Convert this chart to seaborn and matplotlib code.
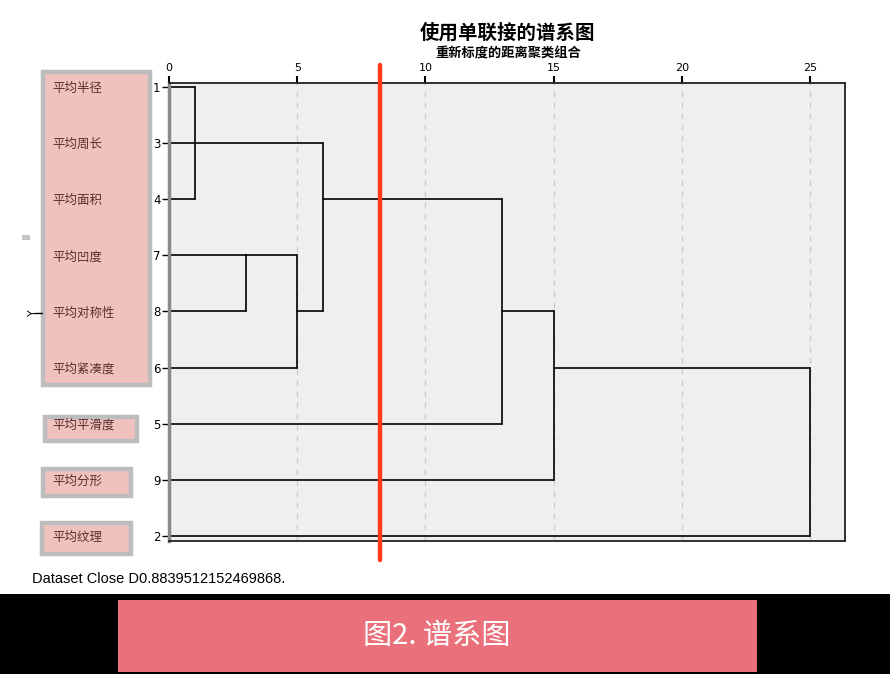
import numpy as np
import pandas as pd
import matplotlib
matplotlib.use("Agg")
import matplotlib.pyplot as plt
from matplotlib.patches import Rectangle
import seaborn as sns

# 叶节点顺序（自上而下）及变量名
leaf_ids = ["1", "3", "4", "7", "8", "6", "5", "9", "2"]
leaf_names = ["平均半径", "平均周长", "平均面积", "平均凹度", "平均对称性",
              "平均紧凑度", "平均平滑度", "平均分形", "平均纹理"]

# 聚类合并过程（重新标度的距离）
merge_names = ["A", "B", "C", "D", "E", "F", "G"]
merge_children = [["1", "3", "4"], ["7", "8"], ["B", "6"], ["A", "C"],
                  ["D", "5"], ["E", "9"], ["F", "2"]]
merge_heights = [1, 3, 5, 6, 13, 15, 25]
merge_anchor = ["3", "7", "8", "4", "8", "6", None]  # 新簇横线所在的叶行

x_ticks = [0, 5, 10, 15, 20, 25]
cut_distance = 8.23

# ---- 计算谱系图线段 ----
pos = {lid: i for i, lid in enumerate(leaf_ids)}
node_x = {lid: 0.0 for lid in leaf_ids}
node_y = {lid: float(i) for i, lid in enumerate(leaf_ids)}
rows = []
seg = 0
for name, kids, h, anc in zip(merge_names, merge_children, merge_heights, merge_anchor):
    ys = []
    for k in kids:
        rows += [(seg, node_x[k], node_y[k]), (seg, h, node_y[k])]
        seg += 1
        ys.append(node_y[k])
    rows += [(seg, h, min(ys)), (seg, h, max(ys))]
    seg += 1
    node_x[name] = h
    node_y[name] = float(pos[anc]) if anc else float(np.mean(ys))
segs = pd.DataFrame(rows, columns=["seg", "dist", "leaf"])

# ---- 画布 ----
sns.set_style("white")
plt.rcParams["font.family"] = ["Noto Sans CJK SC", "DejaVu Sans"]
plt.rcParams["text.color"] = "black"
plt.rcParams["xtick.color"] = "black"
plt.rcParams["ytick.color"] = "black"
W, H = 890, 674
fig = plt.figure(figsize=(W / 100, H / 100), dpi=100)

def fx(px):
    return px / W

def fy(py):
    return 1 - py / H

ax = fig.add_axes([fx(169), fy(541), fx(845) - fx(169), fy(83) - fy(541)])
ax.set_facecolor("#efefef")

sns.lineplot(data=segs, x="dist", y="leaf", units="seg", estimator=None,
             sort=False, color="black", linewidth=1.2, ax=ax, legend=False)

ax.set_xlim(0, 26.36)
ax.set_ylim(8.09, -0.07)
ax.set_xlabel("")
ax.set_ylabel("")

ax.xaxis.tick_top()
ax.set_xticks(x_ticks)
ax.set_xticklabels([str(t) for t in x_ticks], fontsize=8, family="DejaVu Sans")
ax.tick_params(axis="x", direction="out", length=5, width=1.5, pad=2)
ax.xaxis.grid(True, linestyle=(0, (4, 4)), color="#cdcdcd", linewidth=1)
ax.set_axisbelow(True)

ax.set_yticks(range(len(leaf_ids)))
ax.set_yticklabels(leaf_ids, fontsize=8.5, family="DejaVu Sans")
ax.tick_params(axis="y", direction="out", length=5, width=1, pad=1, left=True)

for s in ["top", "right", "bottom"]:
    ax.spines[s].set_color("#222222")
    ax.spines[s].set_linewidth(1.3)
ax.spines["left"].set_color("#8a8a8a")
ax.spines["left"].set_linewidth(2.5)

# 截断线
ax.axvline(cut_distance, ymin=-0.041, ymax=1.039, color="#ff3a1c",
           linewidth=3.2, clip_on=False, zorder=5)

# ---- 标题 ----
fig.text(fx(508), fy(33), "使用单联接的谱系图", ha="center", va="center",
         fontsize=14, fontweight="bold")
fig.text(fx(508), fy(53), "重新标度的距离聚类组合", ha="center", va="center",
         fontsize=9.5, fontweight="bold")

# ---- 左侧粉色标签框 ----
box_specs = [(43, 72, 150, 385), (45, 417, 137, 441), (43, 469, 131, 496), (42, 523, 131, 554)]
for x0, y0, x1, y1 in box_specs:
    fig.add_artist(Rectangle((fx(x0), fy(y1)), fx(x1) - fx(x0), fy(y0) - fy(y1),
                             transform=fig.transFigure, facecolor="#efc2bd",
                             edgecolor="#bdbdbd", linewidth=3.2, zorder=-1))
label_tr = matplotlib.transforms.blended_transform_factory(fig.transFigure, ax.transData)
for i, nm in enumerate(leaf_names):
    ax.text(fx(52), i + 0.03, nm, transform=label_tr, ha="left", va="center",
            fontsize=9, color="#5a3030", clip_on=False)

fig.add_artist(Rectangle((fx(22), fy(240)), fx(8), 5 / H, transform=fig.transFigure,
                         facecolor="#c4c4c4", edgecolor="none", zorder=-1))
fig.text(fx(33), fy(313), "Y", rotation=90, ha="center", va="center",
         fontsize=8, family="DejaVu Sans")
fig.add_artist(plt.Line2D([fx(35), fx(42)], [fy(313), fy(313)],
                          transform=fig.transFigure, color="black", linewidth=1))

# ---- 底部 ----
fig.text(fx(32), fy(579), "Dataset Close D0.8839512152469868.", ha="left", va="center",
         fontsize=10.5, family="Liberation Sans")
fig.add_artist(Rectangle((0, 0), 1, 80 / H, transform=fig.transFigure,
                         facecolor="black", edgecolor="none"))
fig.add_artist(Rectangle((fx(118), fy(672)), fx(757) - fx(118), 72 / H,
                         transform=fig.transFigure, facecolor="#ea717b", edgecolor="none"))
fig.text(fx(437), fy(636), "图2. 谱系图", ha="center", va="center",
         fontsize=21, color="white")

fig.savefig("out.png", dpi=100)
